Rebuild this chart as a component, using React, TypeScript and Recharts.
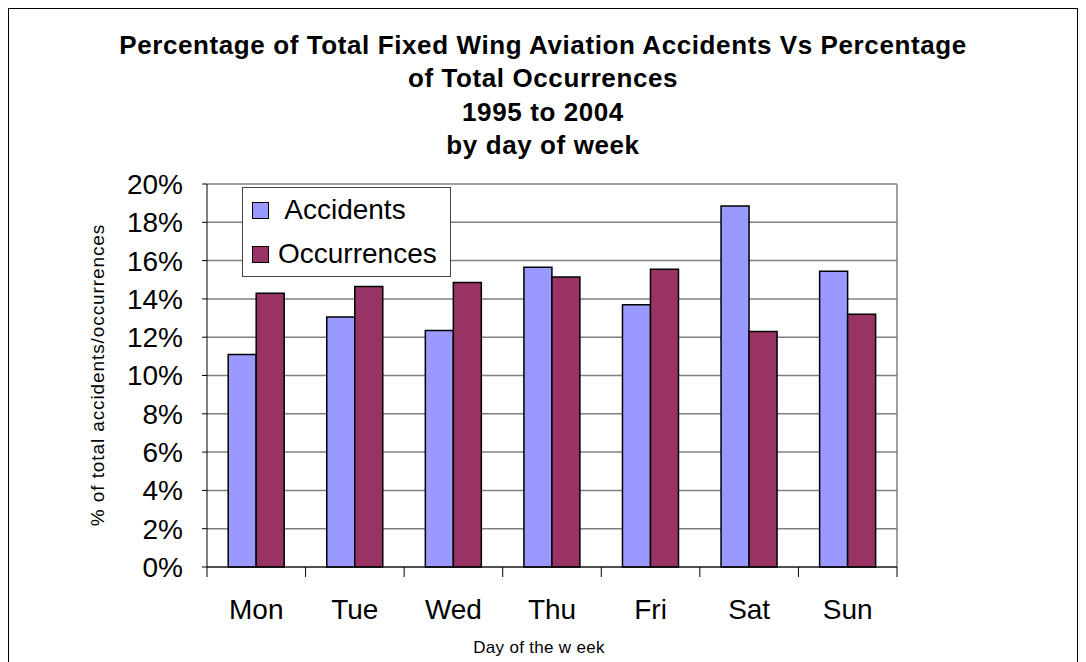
import React from 'react';
import { BarChart, Bar, XAxis, YAxis, CartesianGrid, Legend } from 'recharts';

const days = ['Mon', 'Tue', 'Wed', 'Thu', 'Fri', 'Sat', 'Sun'];
const accidents = [11.1, 13.05, 12.35, 15.65, 13.7, 18.85, 15.45];
const occurrences = [14.3, 14.65, 14.85, 15.15, 15.55, 12.3, 13.2];
const yTicks = [0, 2, 4, 6, 8, 10, 12, 14, 16, 18, 20];
const titleLines = [
  'Percentage of Total Fixed Wing Aviation Accidents Vs Percentage',
  'of Total Occurrences',
  '1995 to 2004',
  'by day of week',
];

const data = days.map((day, i) => ({
  day,
  Accidents: accidents[i],
  Occurrences: occurrences[i],
}));

const FONT = '"Liberation Sans", Arial, sans-serif';

const DayTick = (props: any) => {
  const { x, y, payload, index } = props;
  const half = payload.offset || 49.3;
  return (
    <g>
      <line x1={x - half} y1={y - 8} x2={x - half} y2={y + 2} stroke="#000" />
      {index === days.length - 1 && (
        <line x1={x + half} y1={y - 8} x2={x + half} y2={y + 2} stroke="#000" />
      )}
      <text x={x} y={y + 44} textAnchor="middle" fontSize={28} fontFamily={FONT} fill="#000">
        {payload.value}
      </text>
    </g>
  );
};

const LegendBox = () => (
  <div
    style={{
      width: 207,
      height: 88,
      border: '1px solid #444',
      background: '#fff',
      fontFamily: FONT,
      fontSize: 28,
      color: '#000',
      boxSizing: 'content-box',
    }}
  >
    {[
      { name: ' Accidents', color: '#9999FF' },
      { name: 'Occurrences', color: '#993366' },
    ].map((item, i) => (
      <div key={i} style={{ display: 'flex', alignItems: 'center', height: 44, paddingLeft: 9 }}>
        <span
          style={{
            width: 15,
            height: 15,
            border: '1.5px solid #000',
            background: item.color,
            marginRight: 9,
            display: 'inline-block',
            flexShrink: 0,
          }}
        />
        <span style={{ whiteSpace: 'pre', lineHeight: '30px' }}>{item.name}</span>
      </div>
    ))}
  </div>
);

export default function App() {
  return (
    <div style={{ position: 'relative', width: 1068, height: 660, border: '1px solid #000', background: '#fff' }}>
      <div
        style={{
          position: 'absolute',
          left: 0,
          top: 20,
          width: 1068,
          textAlign: 'center',
          fontFamily: FONT,
          fontWeight: 'bold',
          fontSize: 26,
          letterSpacing: 0.6,
          lineHeight: '33.3px',
          color: '#000',
          zIndex: 2,
        }}
      >
        {titleLines.map((t, i) => (
          <div key={i}>{t}</div>
        ))}
      </div>
      <BarChart
        width={1068}
        height={653}
        data={data}
        margin={{ top: 175, right: 180, bottom: 0, left: 0 }}
        barCategoryGap="21.5%"
        barGap={0}
      >
        <CartesianGrid
          stroke="#808080"
          strokeWidth={1.5}
          vertical={true}
          verticalCoordinatesGenerator={({ offset }: any) => [offset.left + offset.width]}
        />
        <XAxis
          dataKey="day"
          height={95}
          axisLine={{ stroke: '#000' }}
          tickLine={false}
          tick={<DayTick />}
          interval={0}
          label={{
            content: () => (
              <text x={530} y={644} textAnchor="middle" fontSize={17} fontFamily={FONT} fill="#000" letterSpacing={0.3}>
                Day of the w eek
              </text>
            ),
          }}
        />
        <YAxis
          width={198}
          domain={[0, 20]}
          ticks={yTicks}
          interval={0}
          tickFormatter={(v: number) => `${v}%`}
          tickSize={5}
          tickMargin={19}
          axisLine={{ stroke: '#000' }}
          tickLine={{ stroke: '#000' }}
          tick={{ fontSize: 28, fontFamily: FONT, fill: '#000' }}
          label={{
            content: () => (
              <text
                x={95}
                y={366}
                transform="rotate(-90 95 366)"
                textAnchor="middle"
                fontSize={19}
                fontFamily={FONT}
                fill="#000"
                letterSpacing={0.9}
              >
                % of total accidents/occurrences
              </text>
            ),
          }}
        />
        <Legend
          layout="vertical"
          align="center"
          verticalAlign="middle"
          content={() => <LegendBox />}
          wrapperStyle={{ position: 'absolute', left: 233, top: 178, width: 'auto', height: 'auto' }}
        />
        <Bar dataKey="Accidents" fill="#9999FF" stroke="#000" strokeWidth={1.5} isAnimationActive={false} />
        <Bar dataKey="Occurrences" fill="#993366" stroke="#000" strokeWidth={1.5} isAnimationActive={false} />
      </BarChart>
    </div>
  );
}
